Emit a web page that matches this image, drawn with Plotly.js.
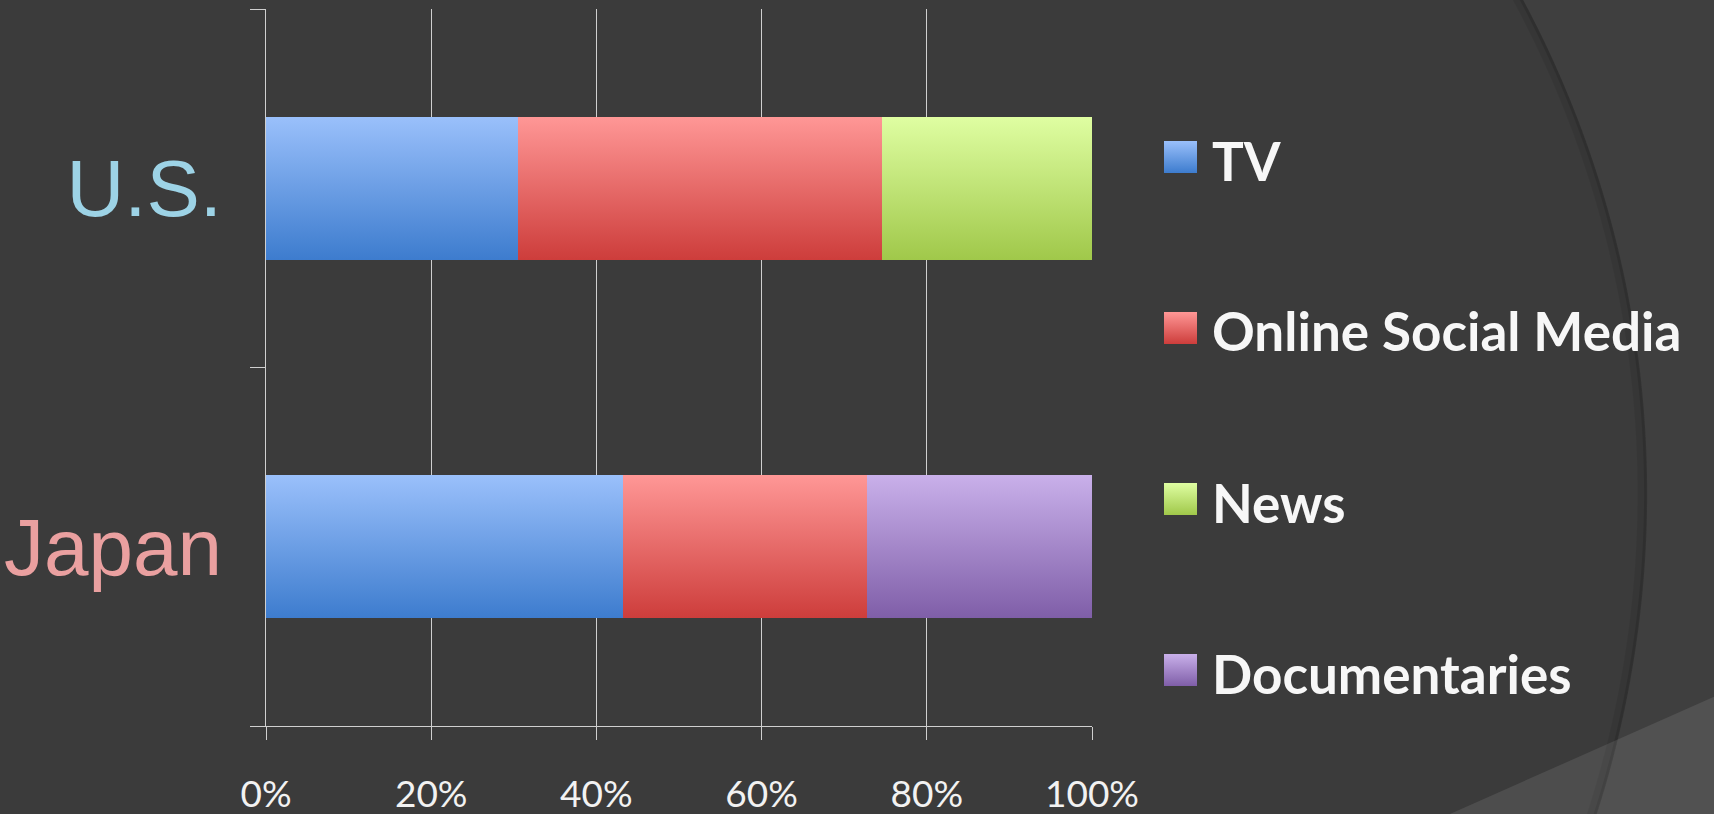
<!DOCTYPE html>
<html>
<head>
<meta charset="utf-8">
<script src="https://cdn.plot.ly/plotly-3.0.1.min.js"></script>
<style>
html, body { margin: 0; padding: 0; background: #3b3b3b; overflow: hidden; }
#chart { width: 1714px; height: 814px; }
</style>
</head>
<body>
<div id="chart"></div>
<script>
// ---------------- data ----------------
const categories = ['U.S.', 'Japan'];
const seriesNames = ['TV', 'Online Social Media', 'News', 'Documentaries'];
const tvValues = [30.5, 43.2];
const socialMediaValues = [44.1, 29.5];
const newsValues = [25.4, null];
const documentaryValues = [null, 27.3];
const xTickValues = [0, 0.2, 0.4, 0.6, 0.8, 1];
const xTickLabels = ['0%', '20%', '40%', '60%', '80%', '100%'];

// ---------------- styles ----------------
const seriesValues = [tvValues, socialMediaValues, newsValues, documentaryValues];
const seriesFlat = ['#6a9ee6', '#e66a68', '#c0e070', '#a286cc'];
const seriesTop = ['#9ac0fb', '#ff9796', '#dffea2', '#c9b0ea'];
const seriesBottom = ['#3d7cce', '#cd3d3b', '#a0c84a', '#7f5ea8'];
const categoryColors = ['#9dd3e6', '#eaa0a0'];
const axisColor = '#cfcfcf';
const bgColor = '#3b3b3b';

// plot area in pixels
const L = 266, T = 9, W = 826, H = 717;
const FW = 1714, FH = 814;
const px = x => (x - L) / W;
const py = y => (T + H - y) / H;

// ---------------- traces ----------------
const traces = seriesNames.map((name, i) => ({
  type: 'bar',
  orientation: 'h',
  name: name,
  y: categories,
  x: seriesValues[i],
  marker: { color: seriesFlat[i], line: { width: 0 } },
  showlegend: false,
  hoverinfo: 'skip'
}));

// ---------------- background decoration ----------------
const arcCx = 603.9, arcCy = 493.5, arcR = 1043.2;
function arcX(y) { return arcCx + Math.sqrt(arcR * arcR - (y - arcCy) * (y - arcCy)); }
function pt(x, y) { return px(x).toFixed(5) + ',' + py(y).toFixed(5); }
let arcPts = [];
for (let y = -20; y <= FH + 20; y += 10) arcPts.push([arcX(y), y]);
let regionPath = 'M' + arcPts.map(p => pt(p[0], p[1])).join(' L') +
  ' L' + pt(FW + 20, FH + 20) + ' L' + pt(FW + 20, -20) + ' Z';
let shadowPath = 'M' + arcPts.map(p => pt(p[0] - 1.5, p[1])).join(' L');
let shadowPath2 = 'M' + arcPts.map(p => pt(p[0] - 5, p[1])).join(' L');
const slope = (696.7 - 814) / (1714 - 1450);
const bandPath = 'M' + pt(1380, 814 + slope * (1380 - 1450)) + ' L' +
  pt(FW + 20, 696.7 + slope * (FW + 20 - 1714)) + ' L' + pt(FW + 20, FH + 30) +
  ' L' + pt(1380, FH + 30) + ' Z';

const shapes = [
  { type: 'path', xref: 'paper', yref: 'paper', path: regionPath, fillcolor: '#3f3f3f', line: { width: 0 }, layer: 'below' },
  { type: 'path', xref: 'paper', yref: 'paper', path: shadowPath2, line: { color: 'rgba(0,0,0,0.07)', width: 9 }, layer: 'below' },
  { type: 'path', xref: 'paper', yref: 'paper', path: shadowPath, line: { color: 'rgba(0,0,0,0.12)', width: 3 }, layer: 'below' },
  { type: 'path', xref: 'paper', yref: 'paper', path: bandPath, fillcolor: 'rgba(255,255,255,0.095)', line: { width: 0 }, layer: 'below' }
];

// ---------------- legend (squares + labels) ----------------
const legendCentersY = [157, 328, 499, 670];
const legendSquareX0 = 1164, legendSquareX1 = 1197, legendHalf = 16;
const legendTextX = 1210;
const legendShapeStart = shapes.length;
const annotations = [];
seriesNames.forEach((name, i) => {
  const c = legendCentersY[i];
  shapes.push({
    type: 'rect', xref: 'paper', yref: 'paper',
    x0: px(legendSquareX0), x1: px(legendSquareX1),
    y0: py(c + legendHalf), y1: py(c - legendHalf),
    fillcolor: seriesFlat[i], line: { width: 0 }, layer: 'above'
  });
  annotations.push({
    xref: 'paper', yref: 'paper', x: px(legendTextX), y: py(c + 3),
    xanchor: 'left', yanchor: 'middle', showarrow: false, text: name,
    font: { family: 'Lato, "Open Sans", sans-serif', size: 53, weight: 700, color: '#f7f7f7' }
  });
});

// ---------------- layout ----------------
const layout = {
  width: FW, height: FH,
  margin: { l: L, r: FW - L - W, t: T, b: FH - T - H, pad: 0 },
  paper_bgcolor: bgColor,
  plot_bgcolor: 'rgba(0,0,0,0)',
  barmode: 'stack',
  barnorm: 'fraction',
  bargap: 0.6,
  showlegend: false,
  hovermode: false,
  xaxis: {
    range: [0, 1],
    tickmode: 'array', tickvals: xTickValues, ticktext: xTickLabels,
    showgrid: true, gridcolor: axisColor, gridwidth: 1,
    ticks: 'outside', ticklen: 13, tickcolor: axisColor, tickwidth: 1,
    showline: true, linecolor: axisColor, linewidth: 1,
    zeroline: false,
    tickfont: { family: 'Lato, "Open Sans", sans-serif', size: 37, color: '#f2f2f2' },
    ticklabelstandoff: 23,
    automargin: false, fixedrange: true
  },
  yaxis: {
    type: 'category',
    categoryorder: 'array', categoryarray: categories,
    autorange: 'reversed',
    tickson: 'boundaries',
    tickmode: 'array', tickvals: categories,
    ticktext: categories.map((c, i) => '<span style="color:' + categoryColors[i] + '">' + c + '</span>'),
    ticks: 'outside', ticklen: 15, tickcolor: axisColor, tickwidth: 1,
    showline: true, linecolor: axisColor, linewidth: 1,
    showgrid: false, zeroline: false,
    tickfont: { family: '"Liberation Sans", Arial, sans-serif', size: 80, color: '#9dd3e6' },
    ticklabelstandoff: 27,
    automargin: false, fixedrange: true
  },
  shapes: shapes,
  annotations: annotations
};

// ---------------- gradients (vertical, light top -> dark bottom) ----------------
function applyGradients(gd) {
  const NS = 'http://www.w3.org/2000/svg';
  const svg = gd.querySelector('svg.main-svg');
  let defs = svg.querySelector('defs');
  if (!defs) { defs = document.createElementNS(NS, 'defs'); svg.insertBefore(defs, svg.firstChild); }
  seriesNames.forEach((n, i) => {
    const g = document.createElementNS(NS, 'linearGradient');
    g.setAttribute('id', 'serGrad' + i);
    g.setAttribute('x1', '0'); g.setAttribute('y1', '0');
    g.setAttribute('x2', '0'); g.setAttribute('y2', '1');
    [[0, seriesTop[i]], [1, seriesBottom[i]]].forEach(s => {
      const st = document.createElementNS(NS, 'stop');
      st.setAttribute('offset', s[0]);
      st.setAttribute('stop-color', s[1]);
      g.appendChild(st);
    });
    defs.appendChild(g);
  });
  gd.querySelectorAll('.barlayer .trace').forEach((tr, i) => {
    tr.querySelectorAll('path').forEach(p => { p.style.fill = 'url(#serGrad' + i + ')'; });
  });
  seriesNames.forEach((n, i) => {
    const p = gd.querySelector('.shapelayer path[data-index="' + (legendShapeStart + i) + '"]');
    if (p) p.style.fill = 'url(#serGrad' + i + ')';
  });
}

const gd = document.getElementById('chart');
Plotly.newPlot(gd, traces, layout, { displayModeBar: false, staticPlot: true, responsive: false })
  .then(applyGradients);
</script>
</body>
</html>
